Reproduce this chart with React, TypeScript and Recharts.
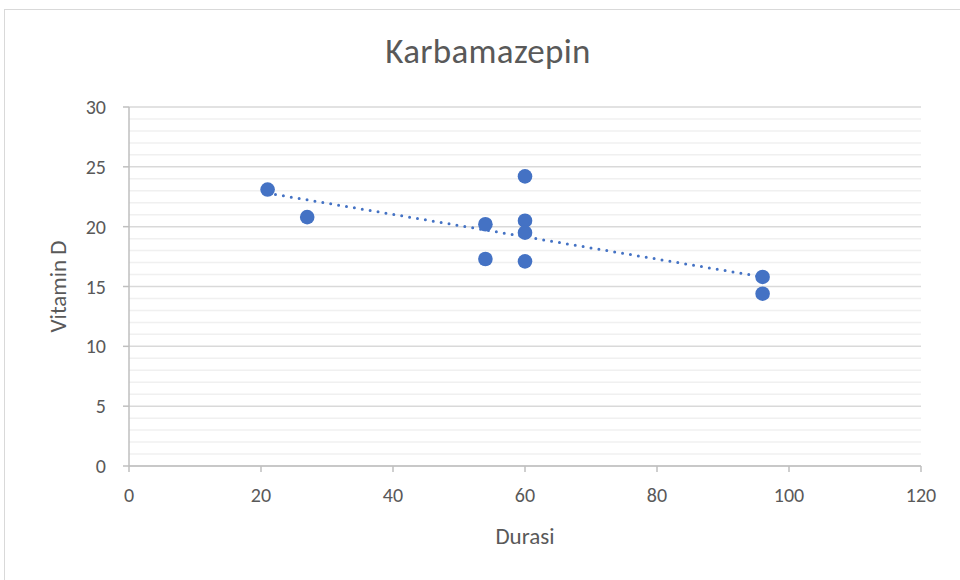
import {
  ScatterChart,
  Scatter,
  XAxis,
  YAxis,
  CartesianGrid,
  ReferenceLine,
} from "recharts";

const durasi = [21, 27, 54, 54, 60, 60, 60, 60, 96, 96];
const vitaminD = [23.1, 20.8, 20.2, 17.3, 24.2, 20.5, 19.5, 17.1, 15.8, 14.4];

// linear trendline endpoints as drawn in the source
const trendX = [21, 96];
const trendY = [22.8, 15.8];

const xTicks = [0, 20, 40, 60, 80, 100, 120];
const yTicks = [0, 5, 10, 15, 20, 25, 30];
const yMinor = [1, 2, 3, 4, 6, 7, 8, 9, 11, 12, 13, 14, 16, 17, 18, 19, 21, 22, 23, 24, 26, 27, 28, 29];

const FONT = "Calibri, Carlito, Lato, sans-serif";
const BLUE = "#4472C4";
const TEXT = "#595959";

const points = durasi.map((x, i) => ({ x, y: vitaminD[i] }));

// eslint-disable-next-line @typescript-eslint/no-explicit-any
const Dot = (props: any) => <circle cx={props.cx} cy={props.cy} r={7.3} fill={BLUE} />;

export default function App() {
  return (
    <div
      style={{
        position: "absolute",
        left: 0,
        top: 0,
        width: 960,
        height: 580,
        background: "#fff",
        overflow: "hidden",
        fontFamily: FONT,
      }}
    >
      <div
        style={{
          position: "absolute",
          left: 4,
          top: 9,
          width: 1000,
          height: 600,
          border: "1px solid #d9d9d9",
        }}
      />
      <div
        style={{
          position: "absolute",
          left: 0,
          width: 976,
          top: 30,
          textAlign: "center",
          fontSize: 35,
          letterSpacing: 0.3,
          color: TEXT,
        }}
      >
        Karbamazepin
      </div>
      <ScatterChart
        width={960}
        height={580}
        margin={{ top: 107, right: 39, bottom: 60, left: 0 }}
        style={{ position: "absolute", left: 0, top: 0 }}
      >
        {yMinor.map((v) => (
          <ReferenceLine key={v} y={v} stroke="#f0f0f0" strokeWidth={1.5} />
        ))}
        <CartesianGrid vertical={false} stroke="#d9d9d9" strokeWidth={1.5} />
        <XAxis
          type="number"
          dataKey="x"
          domain={[0, 120]}
          ticks={xTicks}
          height={54}
          stroke="#bfbfbf"
          strokeWidth={1.5}
          tickSize={6}
          tickMargin={16}
          tick={{ fill: TEXT, fontSize: 20, fontFamily: FONT }}
          label={{
            value: "Durasi",
            position: "insideBottom",
            offset: -24,
            fill: TEXT,
            fontSize: 23,
            fontFamily: FONT,
          }}
        />
        <YAxis
          type="number"
          dataKey="y"
          domain={[0, 30]}
          ticks={yTicks}
          width={129}
          stroke="#bfbfbf"
          strokeWidth={1.5}
          tickSize={6}
          tickMargin={17}
          tick={{ fill: TEXT, fontSize: 20, fontFamily: FONT }}
          label={{
            value: "Vitamin D",
            angle: -90,
            position: "insideLeft",
            offset: 58,
            fill: TEXT,
            fontSize: 23,
            fontFamily: FONT,
            style: { textAnchor: "middle" },
          }}
        />
        <ReferenceLine
          segment={[
            { x: trendX[0], y: trendY[0] },
            { x: trendX[1], y: trendY[1] },
          ]}
          stroke={BLUE}
          strokeWidth={3}
          strokeDasharray="0 8"
          strokeLinecap="round"
        />
        <Scatter data={points} shape={Dot} isAnimationActive={false} />
      </ScatterChart>
    </div>
  );
}
